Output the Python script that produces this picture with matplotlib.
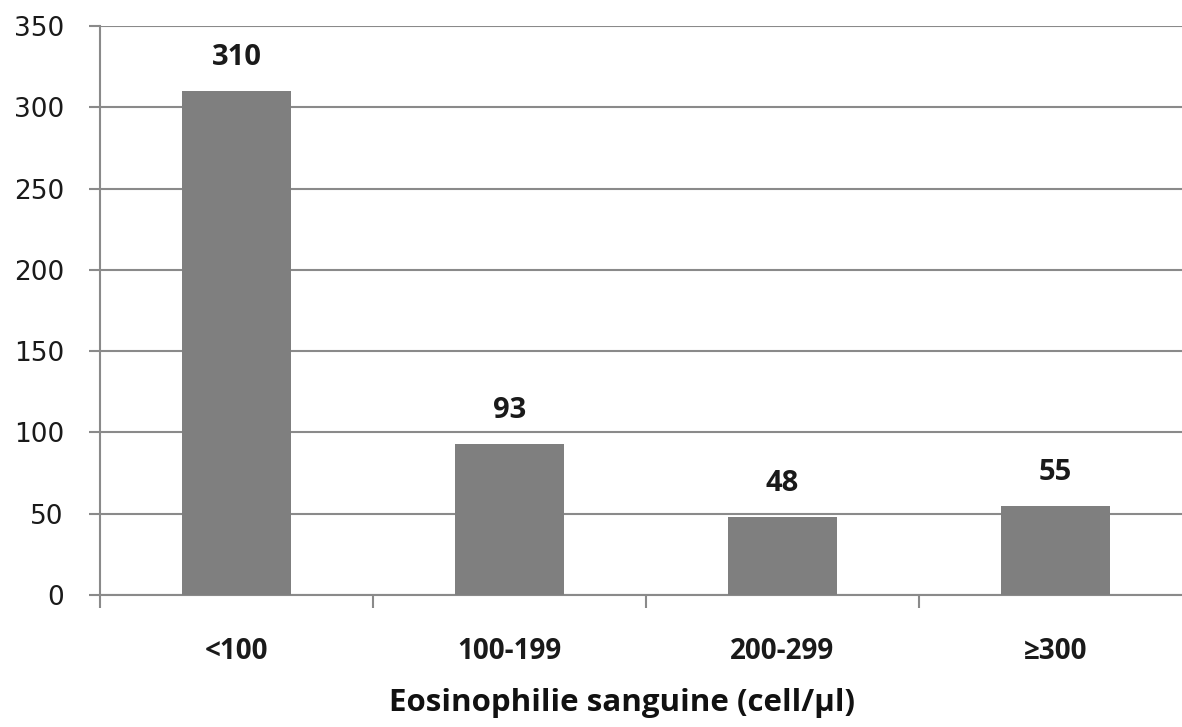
import matplotlib.pyplot as plt
import numpy as np

# data
categories = ['<100', '100-199', '200-299', '≥300']
counts = [310, 93, 48, 55]
yticks = [0, 50, 100, 150, 200, 250, 300, 350]
xlabel = 'Eosinophilie sanguine (cell/µl)'

W, H = 1182, 727
fig = plt.figure(figsize=(W / 100, H / 100), dpi=100)
# axes extends slightly past the right edge (cropped in the original)
ax = fig.add_axes([100 / W, 132 / H, 1092 / W, 569 / H])

grey = '#8a8a8a'
bold_font = ['Open Sans', 'DejaVu Sans']
idx = np.arange(len(categories))
ax.bar(idx, counts, width=0.40, color='#7f7f7f', zorder=3)

ax.set_xlim(-0.5, len(categories) - 0.5)
ax.set_ylim(0, 350)
ax.set_yticks(yticks)
ax.yaxis.grid(True, color=grey, linewidth=1.5, zorder=1)
ax.set_axisbelow(True)

for s in ['top', 'right']:
    ax.spines[s].set_visible(False)
for s in ['left', 'bottom']:
    ax.spines[s].set_color(grey)
    ax.spines[s].set_linewidth(1.5)

# category boundaries as major ticks, labels on minor ticks at centres
ax.set_xticks(np.arange(-0.5, len(categories), 1.0))
ax.set_xticklabels([])
ax.set_xticks(idx, minor=True)
ax.set_xticklabels(categories, minor=True, fontsize=20, fontweight='bold',
                   family=bold_font, color='#1a1a1a')
ax.tick_params(axis='x', which='major', length=9, width=1.5, color=grey)
ax.tick_params(axis='x', which='minor', length=0, pad=30)
ax.tick_params(axis='y', length=8, width=1.5, color=grey, pad=18,
               labelsize=19, labelcolor='#1a1a1a')

for i, v in enumerate(counts):
    ax.annotate(str(v), (i, v), xytext=(0, 24), textcoords='offset points',
                ha='center', va='center', fontsize=21, fontweight='bold',
                family=bold_font, color='#1a1a1a')

fig.text(622 / W, 1 - 703 / H, xlabel, ha='center', va='center',
         fontsize=22.5, fontweight='bold', family=bold_font,
         color='#111111')

fig.savefig('out.png', dpi=100)
